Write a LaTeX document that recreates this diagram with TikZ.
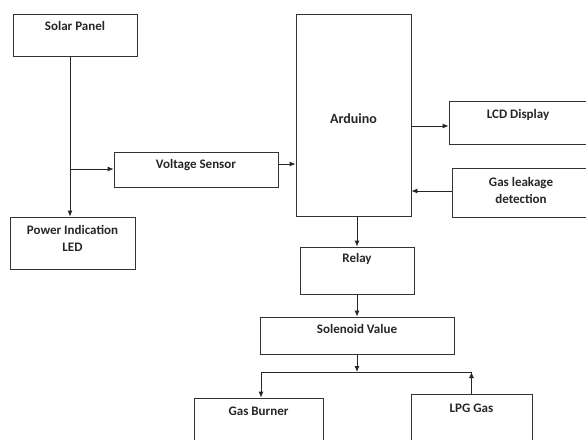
\documentclass[tikz,border=0pt]{standalone}
\usepackage{fontspec}
\setmainfont{Carlito}
\usetikzlibrary{arrows.meta,calc}
\begin{document}
\begin{tikzpicture}[x=1pt,y=-1pt,
  box/.style={draw=black!80, line width=0.8pt, rectangle, inner sep=0pt},
  lbl/.style={font=\fontsize{13}{17}\selectfont\bfseries, text=black!85, align=center, inner sep=0pt},
  conn/.style={draw=black!85, line width=0.8pt},
  arr/.style={conn, -{Latex[length=6pt,width=5pt]}}]
\useasboundingbox (0,0) rectangle (586,439);
% boxes
\node[box, minimum width=124pt, minimum height=42pt] (solar) at (75,35) {};
\node[box, minimum width=125pt, minimum height=52pt] (power) at (72.5,243) {};
\node[box, minimum width=164pt, minimum height=35pt] (volt) at (196,169.5) {};
\node[box, minimum width=115pt, minimum height=202pt] (ard) at (353.5,115) {};
\node[box, minimum width=138pt, minimum height=43pt] (lcd) at (518,122.5) {};
\node[box, minimum width=138pt, minimum height=49pt] (leak) at (521,192.5) {};
\node[box, minimum width=114pt, minimum height=47pt] (relay) at (357,270.5) {};
\node[box, minimum width=194pt, minimum height=37pt] (sol) at (357,335.5) {};
\node[box, minimum width=129pt, minimum height=50pt] (burner) at (258.5,423) {};
\node[box, minimum width=121pt, minimum height=54pt] (lpg) at (471.5,421) {};
% labels
\node[lbl] (tsolar) at (75,26) {Solar Panel};
\node[lbl] (tpower) at (72.5,238) {Power Indication\\LED};
\node[lbl] (tvolt) at (196,165) {Voltage Sensor};
\node[lbl, font=\fontsize{14}{17}\selectfont\bfseries] (tard) at (353.5,119) {Arduino};
\node[lbl] (tlcd) at (518,115) {LCD Display};
\node[lbl] (tleak) at (521,190) {Gas leakage\\detection};
\node[lbl] (trelay) at (357,259) {Relay};
\node[lbl] (tsol) at (357,329) {Solenoid Value};
\node[lbl] (tburner) at (258.5,411) {Gas Burner};
\node[lbl] (tlpg) at (471.5,408) {LPG Gas};
% junctions
\coordinate (j1) at (70,169);
\coordinate (j2) at (357,372);
\coordinate (jb) at (261,372);
\coordinate (jl) at (471.5,372);
% connectors
\draw[conn] (solar.south -| j1) -- (j1);
\draw[arr] (j1) -- (j1 |- power.north);
\draw[arr] (j1) -- (volt.west |- j1);
\draw[arr] (volt.east |- 0,164) -- (ard.west |- 0,164);
\draw[arr] (ard.east |- 0,126) -- (lcd.west |- 0,126);
\draw[arr] (leak.west |- 0,191) -- (ard.east |- 0,191);
\draw[arr] (relay.north |- ard.south) -- (relay.north);
\draw[arr] (relay.south) -- (sol.north);
\draw[arr] (sol.south) -- (j2);
\draw[conn] (jb) -- (jl);
\draw[arr] (jb) -- (jb |- burner.north);
\draw[arr] (lpg.north) -- (jl);
\end{tikzpicture}
\end{document}
